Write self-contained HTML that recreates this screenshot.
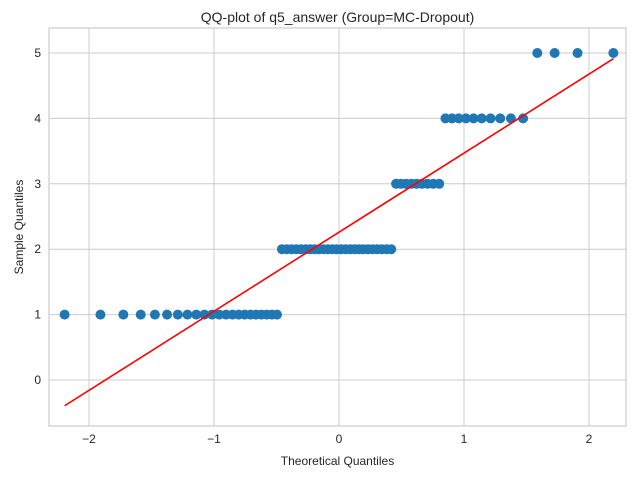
<!DOCTYPE html>
<html><head><meta charset="utf-8"><style>
body{margin:0;background:#fff;font-family:"Liberation Sans","DejaVu Sans",sans-serif}
</style></head><body>
<svg id="c" width="640" height="480" xmlns="http://www.w3.org/2000/svg"></svg>
<script>
const levels=[1,2,3,4,5];
const counts=[22,25,9,10,4];
const xTicks=[-2,-1,0,1,2];
const yTicks=[0,1,2,3,4,5];
const lineSlope=1.209;
const lineIntercept=2.26;
const ns="http://www.w3.org/2000/svg";
const svg=document.getElementById('c');
const L=49,R=626,T=28,B=426;
const X=v=>339+125*v, Y=v=>380-65.4*v;
function mk(t,a,p){const e=document.createElementNS(ns,t);for(const k in a)e.setAttribute(k,a[k]);(p||svg).appendChild(e);return e;}
function invNorm(p){const a=[-39.69683028665376,220.9460984245205,-275.9285104469687,138.357751867269,-30.66479806614716,2.506628277459239],b=[-54.47609879822406,161.5858368580409,-155.6989798598866,66.80131188771972,-13.28068155288572],c=[-0.007784894002430293,-0.3223964580411365,-2.400758277161838,-2.549732539343734,4.374664141464968,2.938163982698783],d=[0.007784695709041462,0.3224671290700398,2.445134137142996,3.754408661907416];let q,r;
if(p<0.02425){q=Math.sqrt(-2*Math.log(p));return(((((c[0]*q+c[1])*q+c[2])*q+c[3])*q+c[4])*q+c[5])/((((d[0]*q+d[1])*q+d[2])*q+d[3])*q+1);}
if(p>1-0.02425){q=Math.sqrt(-2*Math.log(1-p));return-(((((c[0]*q+c[1])*q+c[2])*q+c[3])*q+c[4])*q+c[5])/((((d[0]*q+d[1])*q+d[2])*q+d[3])*q+1);}
q=p-0.5;r=q*q;return(((((a[0]*r+a[1])*r+a[2])*r+a[3])*r+a[4])*r+a[5])*q/(((((b[0]*r+b[1])*r+b[2])*r+b[3])*r+b[4])*r+1);}
// grid
xTicks.forEach(v=>{const g=mk('line',{x1:X(v),x2:X(v),y1:T,y2:B,stroke:'#cccccc','stroke-width':1});

const t=mk('text',{x:X(v),y:B+17,'text-anchor':'middle','font-size':12,fill:'#262626'});t.textContent=v<0?'\u2212'+(-v):v;
});
yTicks.forEach(v=>{const g=mk('line',{x1:L,x2:R,y1:Y(v),y2:Y(v),stroke:'#cccccc','stroke-width':1});

const t=mk('text',{x:L-8,y:Y(v)+4,'text-anchor':'end','font-size':12,fill:'#262626'});t.textContent=v;
});
const fr=mk('rect',{x:L,y:T,width:R-L,height:B-T,fill:'none',stroke:'#cccccc','stroke-width':1.2});

// points
const n=counts.reduce((s,v)=>s+v,0);let i=1;
levels.forEach((lv,k)=>{for(let j=0;j<counts[k];j++,i++){const q=invNorm(i/(n+1));
const p=mk('circle',{cx:X(q),cy:Y(lv),r:5,fill:'#1f77b4'});
}});
const q0=invNorm(1/(n+1)),q1=invNorm(n/(n+1));
const ln=mk('line',{x1:X(q0),y1:Y(lineSlope*q0+lineIntercept),x2:X(q1),y2:Y(lineSlope*q1+lineIntercept),stroke:'#ff0000','stroke-width':1.6});

const tt=mk('text',{x:(L+R)/2,y:22,'text-anchor':'middle','font-size':14,fill:'#262626'});tt.textContent='QQ-plot of q5_answer (Group=MC-Dropout)';

const xl=mk('text',{x:(L+R)/2,y:465,'text-anchor':'middle','font-size':12,fill:'#262626'});xl.textContent='Theoretical Quantiles';

const yl=mk('text',{x:0,y:0,'text-anchor':'middle','font-size':12,fill:'#262626',transform:'translate(23,227) rotate(-90)'});yl.textContent='Sample Quantiles';

</script></body></html>
